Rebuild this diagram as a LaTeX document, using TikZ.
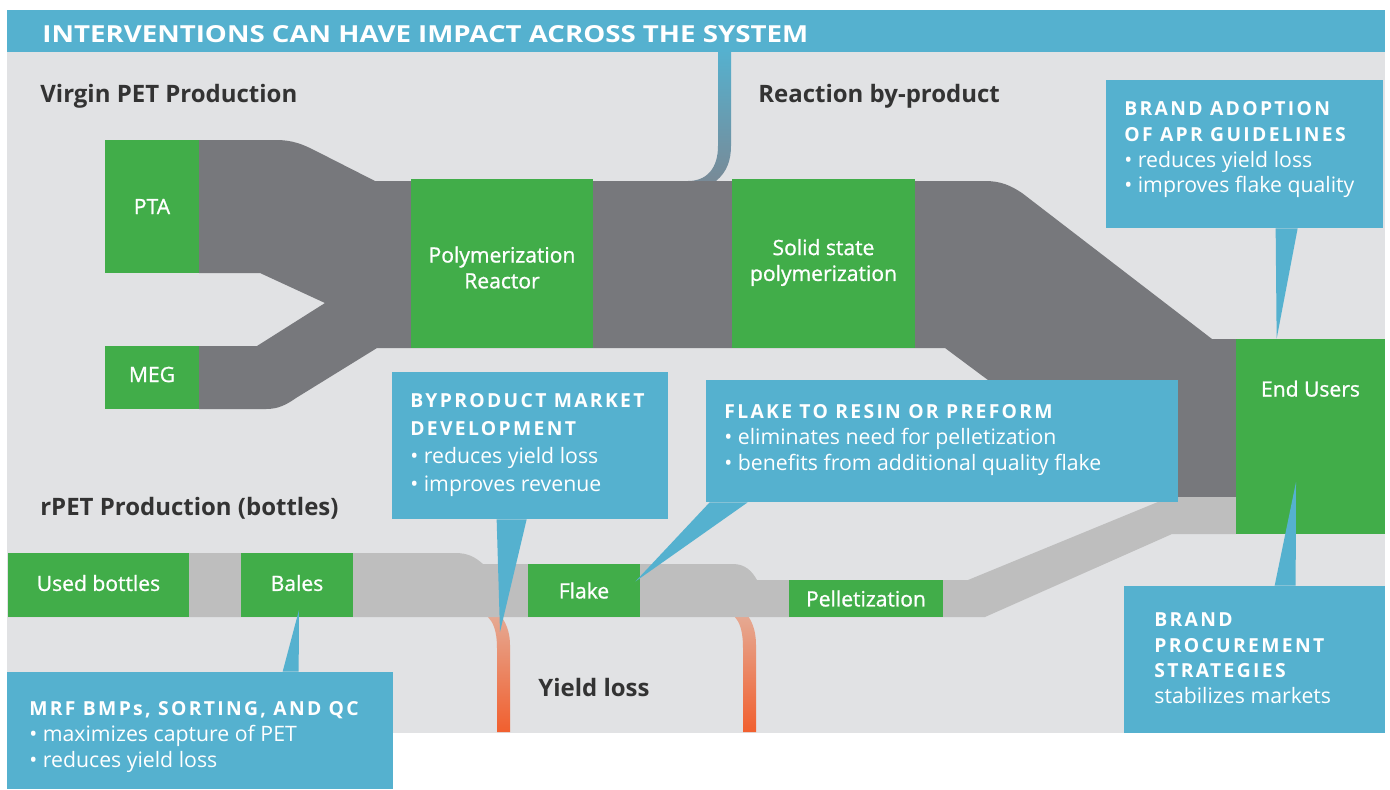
\documentclass[tikz,border=0pt]{standalone}
\usepackage{fontspec}
\setmainfont{Open Sans}
\newfontfamily\headfont{Open Sans}[LetterSpace=12]
\newfontfamily\stagefont{Open Sans}[FakeBold=1]
\usetikzlibrary{calc,positioning,fit}
\definecolor{PanelGray}{HTML}{E1E2E4}
\definecolor{CalloutBlue}{HTML}{55B1CF}
\definecolor{StageGreen}{HTML}{41AD49}
\definecolor{VirginGray}{HTML}{77787C}
\definecolor{RecycleGray}{HTML}{BEBEBE}
\definecolor{LabelDark}{HTML}{333333}
\definecolor{LossSalmon}{HTML}{E4B09C}
\definecolor{LossMid}{HTML}{EE7446}
\definecolor{LossOrange}{HTML}{F15F2E}
\definecolor{PipeSlate}{HTML}{788A97}
\newcommand{\calloutheading}[1]{{\headfont\bfseries\fontsize{11}{14.7}\selectfont #1}}

\begin{document}
\begin{tikzpicture}[x=0.02cm,y=-0.02cm,
    stage/.style={fill=StageGreen,inner sep=0pt},
    stagetext/.style={inner sep=0pt,text=white,align=center,
      font=\stagefont\fontsize{12}{14.7}\selectfont},
    callout/.style={fill=CalloutBlue,inner sep=0pt},
    calltext/.style={anchor=north west,inner sep=0pt,text=white,align=left,
      font=\fontsize{12.1}{14.7}\selectfont},
    heading/.style={anchor=base west,inner sep=0pt,text=LabelDark,
      font=\fontsize{13.65}{16}\selectfont\bfseries}]
  \useasboundingbox[fill=white] (0,0) rectangle (1390,789);

  % panel and title bar
  \fill[PanelGray] (7,52) rectangle (1385,733);
  \fill[CalloutBlue] (7,10) rectangle (1385,52);
  \node[anchor=base west,inner sep=0pt,text=white] (title) at (42,42)
    {\resizebox{15.32cm}{0.34cm}{\bfseries INTERVENTIONS CAN HAVE IMPACT ACROSS THE SYSTEM}};

  % by-product pipe up to the title bar
  \shade[top color=CalloutBlue,bottom color=PipeSlate]
    (718,50) -- (718,146) .. controls (718,168) and (707,181) .. (688,181)
    -- (716,181) .. controls (727,172) and (731,160) .. (731,146) -- (731,50) -- cycle;

  % yield loss pipes
  \shade[top color=LossSalmon,middle color=LossMid,bottom color=LossOrange]
    (472,610) .. controls (490,612) and (497,625) .. (497,648) -- (497,732)
    -- (510,732) -- (510,645) .. controls (510,625) and (500,610) .. (485,605) -- cycle;
  \shade[top color=LossSalmon,middle color=LossMid,bottom color=LossOrange]
    (720,610) .. controls (737,612) and (743,625) .. (743,648) -- (743,732)
    -- (756,732) -- (756,645) .. controls (756,625) and (748,610) .. (733,605) -- cycle;

  % virgin PET stream
  \fill[VirginGray] (199,140) -- (276,140) .. controls (292,140) and (302,144) .. (314,150)
    -- (375,181) -- (985,181) .. controls (1000,181) and (1010,185) .. (1022,193)
    -- (1212,339) -- (1236,339) -- (1236,497) -- (1145,497) -- (945,348) -- (377,348)
    -- (296,398) .. controls (286,405) and (278,409) .. (266,409) -- (199,409)
    -- (199,346) -- (257,346) -- (325,303) -- (260,273) -- (199,273) -- cycle;

  % rPET stream
  \fill[RecycleGray] (8,553) -- (455,553) .. controls (468,553) and (475,557) .. (483,564)
    -- (733,564) .. controls (745,564) and (752,571) .. (757,580) -- (968,580)
    -- (1170,497) -- (1236,497) -- (1236,534) -- (1172,534) -- (985,617) -- (8,617) -- cycle;

  % stages
  \node[stage,fit={(105,140) (199,273)}] (pta) {};
  \node[stagetext] at (pta.center) {PTA};
  \node[stage,fit={(105,346) (199,409)}] (meg) {};
  \node[stagetext] at ($(meg.center)+(0,-3)$) {MEG};
  \node[stage,fit={(411,179) (593,348)}] (poly) {};
  \node[stagetext] at ($(poly.center)+(0,4)$) {Polymerization\\Reactor};
  \node[stage,fit={(732,179) (915,348)}] (ssp) {};
  \node[stagetext] at ($(ssp.center)+(0,-1)$) {Solid state\\polymerization};
  \node[stage,fit={(1236,339) (1385,534)}] (endusers) {};
  \node[stagetext] at ($(endusers.north)+(0,50)$) {End Users};
  \node[stage,fit={(8,553) (189,617)}] (used) {};
  \node[stagetext] at ($(used.center)+(0,-2)$) {Used bottles};
  \node[stage,fit={(241,553) (353,617)}] (bales) {};
  \node[stagetext] at ($(bales.center)+(0,-2)$) {Bales};
  \node[stage,fit={(528,564) (640,617)}] (flake) {};
  \node[stagetext] at (flake.center) {Flake};
  \node[stage,fit={(789,580) (943,617)}] (pellet) {};
  \node[stagetext] at (pellet.center) {Pelletization};

  % stream labels
  \node[heading] (virginlbl) at (40,102) {Virgin PET Production};
  \node[heading] (byprodlbl) at (758,102) {Reaction by-product};
  \node[heading] (rpetlbl) at (40,515) {rPET Production (bottles)};
  \node[heading] (losslbl) at (538,696) {Yield loss};

  % callouts
  \node[callout,fit={(392,372) (668,519)}] (cbyprod) {};
  \fill[CalloutBlue] ($(cbyprod.south west)+(105,0)$) -- ($(cbyprod.south west)+(135,0)$)
    -- (500,632) -- cycle;
  \node[calltext,font=\fontsize{12.1}{16}\selectfont] at (410,393)
    {\calloutheading{BYPRODUCT MARKET}\\\calloutheading{DEVELOPMENT}\\
     • reduces yield loss\\• improves revenue};

  \node[callout,fit={(706,380) (1178,502)}] (cflake) {};
  \fill[CalloutBlue] ($(cflake.south west)+(4,0)$) -- ($(cflake.south west)+(42,0)$)
    -- ($(flake.east)+(-5,-9)$) -- cycle;
  \node[calltext] at (724,404)
    {\calloutheading{FLAKE TO RESIN OR PREFORM}\\
     • eliminates need for pelletization\\• benefits from additional quality flake};

  \node[callout,fit={(1106,80) (1383,228)}] (capr) {};
  \fill[CalloutBlue] ($(capr.south west)+(170,0)$) -- ($(capr.south west)+(192,0)$)
    -- ($(endusers.north west)+(41,0)$) -- cycle;
  \node[calltext] at (1124,101)
    {\calloutheading{BRAND ADOPTION}\\\calloutheading{OF APR GUIDELINES}\\
     • reduces yield loss\\• improves flake quality};

  \node[callout,fit={(1124,586) (1385,733)}] (cproc) {};
  \fill[CalloutBlue] ($(cproc.north west)+(151,0)$) -- ($(cproc.north west)+(172,0)$)
    -- (1296,482) -- cycle;
  \node[calltext] at (1154,612)
    {\calloutheading{BRAND}\\\calloutheading{PROCUREMENT}\\\calloutheading{STRATEGIES}\\
     stabilizes markets};

  \node[callout,fit={(7,672) (393,789)}] (cmrf) {};
  \fill[CalloutBlue] ($(cmrf.north west)+(276,0)$) -- ($(cmrf.north west)+(292,0)$)
    -- (299,610) -- cycle;
  \node[calltext] at (29,701)
    {\calloutheading{MRF BMPs, SORTING, AND QC}\\
     • maximizes capture of PET\\• reduces yield loss};
\end{tikzpicture}
\end{document}
